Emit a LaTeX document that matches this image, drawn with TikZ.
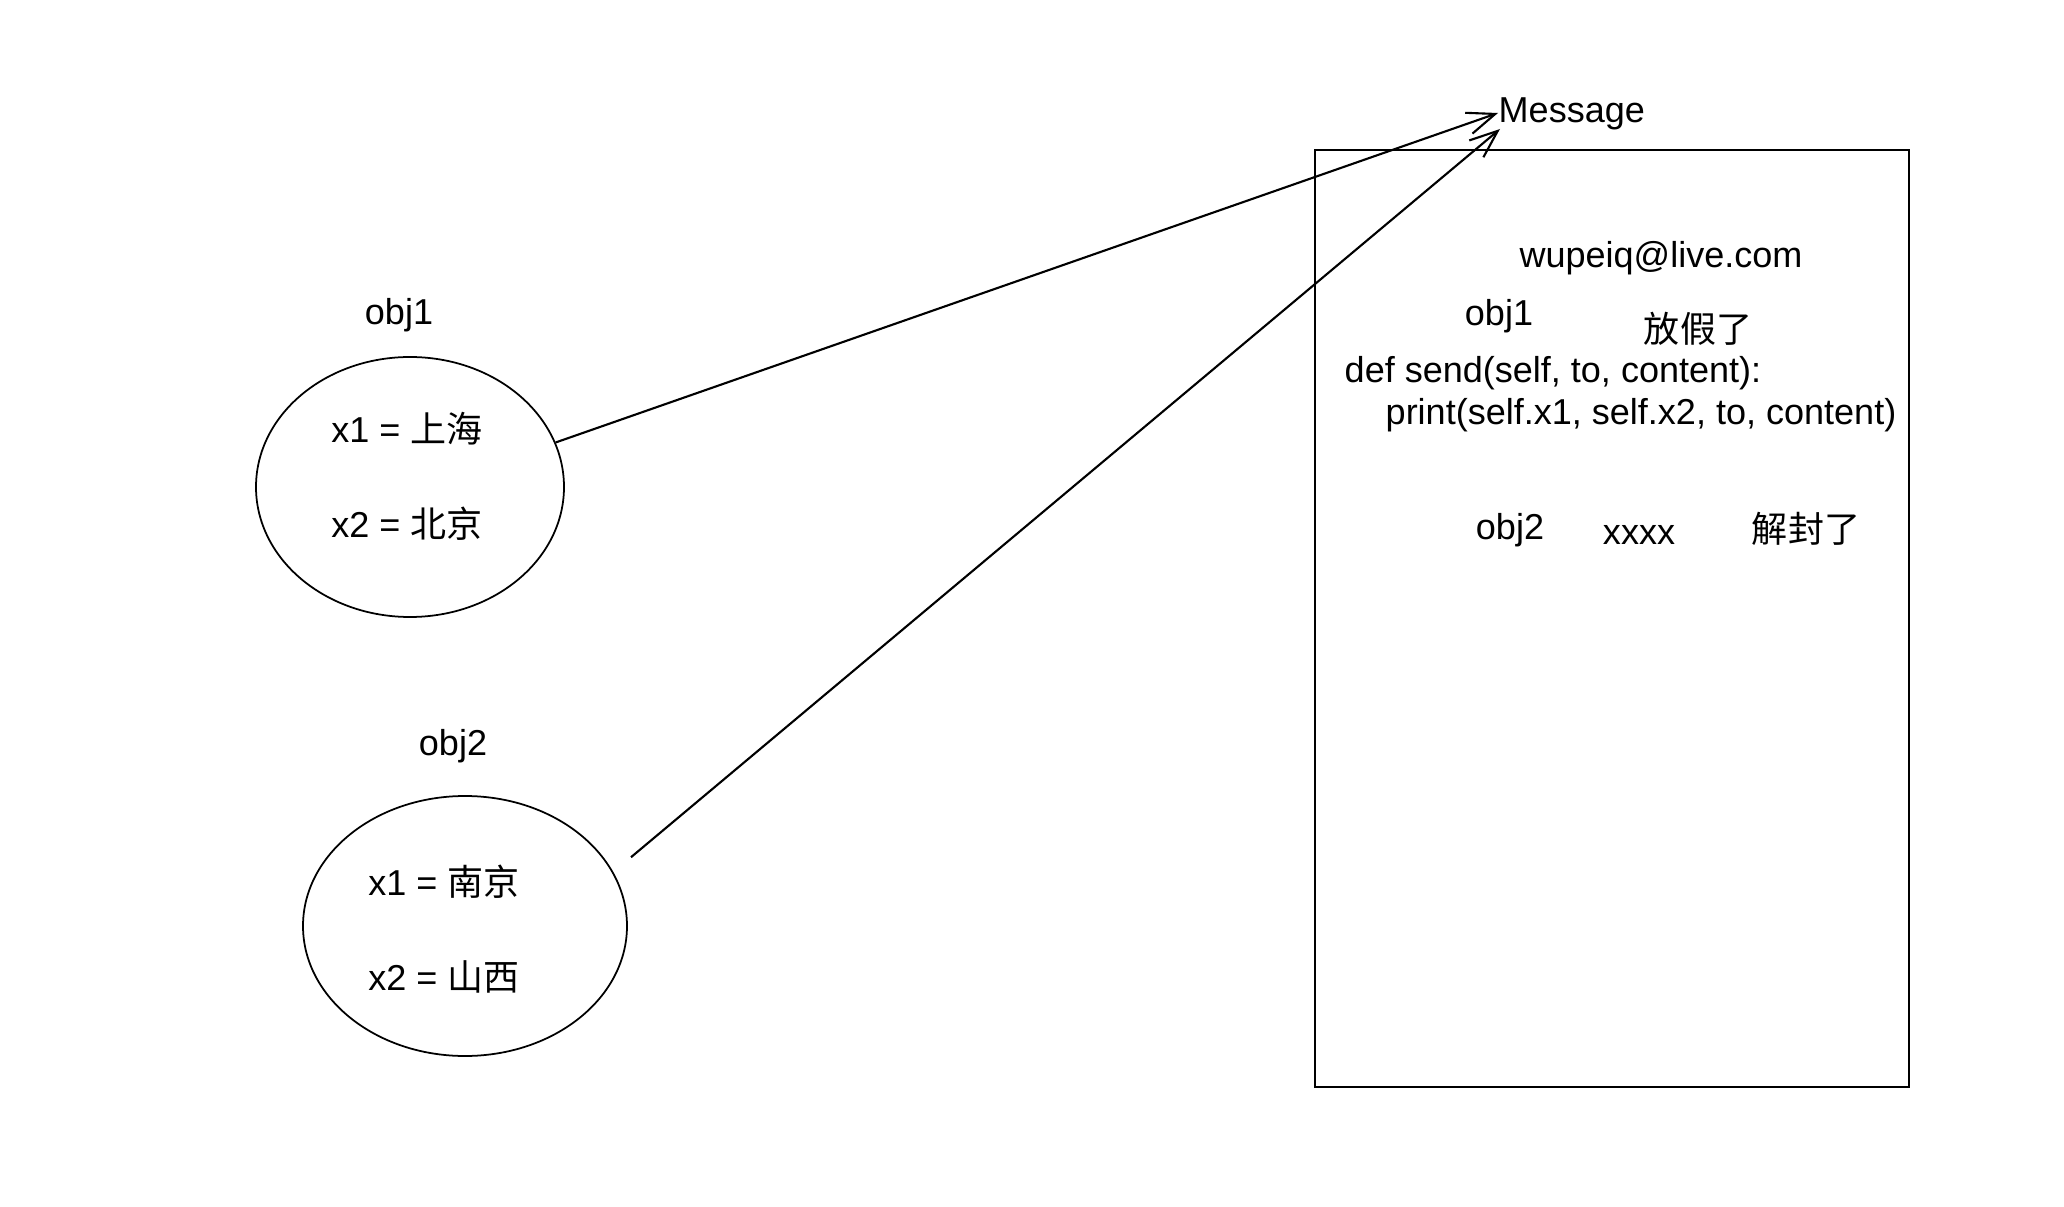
\documentclass[tikz,border=0pt]{standalone}
\usepackage{fontspec}
\setmainfont{Liberation Sans}
\newfontfamily\cjk{Noto Sans CJK SC}
\usetikzlibrary{shapes.geometric,arrows.meta}
\begin{document}
\begin{tikzpicture}[
  every node/.style={font=\fontsize{10.25}{12.3}\selectfont, inner sep=0pt},
  objring/.style={draw, ellipse, line width=0.5pt},
  msgline/.style={line width=0.6pt, -{Straight Barb[length=2.8mm,width=2.2mm]}}
]
\useasboundingbox (0,0) rectangle (20.64,12.06);
%Objects
  %obj1
  \node[objring, minimum width=3.08cm, minimum height=2.60cm] (ring1) at (4.10,7.19) {};
  \node (obj1) at (3.99,8.91) {obj1};
  \node (o1x1) at (4.07,7.77) {x1 = {\cjk 上海}};
  \node (o1x2) at (4.07,6.82) {x2 = {\cjk 北京}};
  %obj2
  \node[objring, minimum width=3.24cm, minimum height=2.60cm] (ring2) at (4.65,2.80) {};
  \node (obj2) at (4.53,4.60) {obj2};
  \node (o2x1) at (4.44,3.24) {x1 = {\cjk 南京}};
  \node (o2x2) at (4.44,2.29) {x2 = {\cjk 山西}};
%Message class
  \draw[line width=0.6pt] (13.15,10.56) rectangle (19.09,1.19);
  \node[anchor=west] (msg) at (14.98,10.92) {Message};
  \node (mail) at (16.61,9.48) {wupeiq@live.com};
  \node (cobj1) at (14.99,8.90) {obj1};
  \node (txt1) at (16.98,8.77) {\cjk 放假了};
  \node[anchor=west] (def) at (13.44,8.33) {def send(self, to, content):};
  \node[anchor=west] (body) at (13.85,7.91) {print(self.x1, self.x2, to, content)};
  \node (cobj2) at (15.10,6.76) {obj2};
  \node (to2) at (16.39,6.71) {xxxx};
  \node (txt2) at (18.06,6.77) {\cjk 解封了};
%Instances point to the class
  \draw[msgline] (ring1.17) -- ([yshift=0.01cm]msg.west);
  \draw[msgline, shorten <=0.23cm] (ring2.20) -- ([xshift=0.02cm,yshift=-0.15cm]msg.west);
\end{tikzpicture}
\end{document}
